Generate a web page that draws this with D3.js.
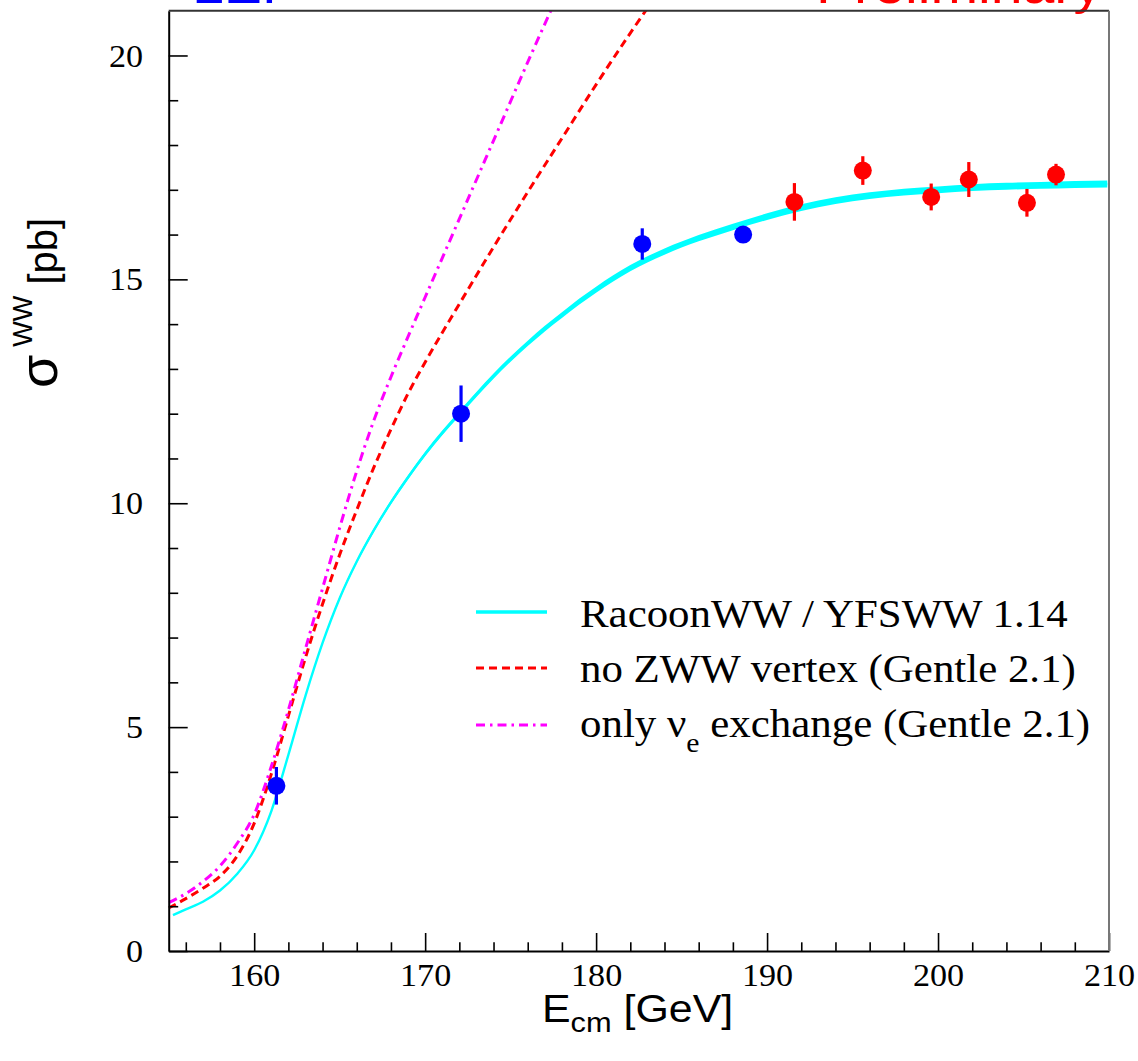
<!DOCTYPE html>
<html>
<head>
<meta charset="utf-8">
<script src="https://cdn.jsdelivr.net/npm/d3@7"></script>
<style>
  body { margin: 0; background: #ffffff; }
  svg { display: block; }
</style>
</head>
<body>
<svg id="chart" width="1138" height="1061"></svg>
<script>
// ---- axis ticks ----
const energyTicks = [160, 170, 180, 190, 200, 210];
const energyMinorTicks = d3.range(156, 210, 2).filter(v => v % 10 !== 0);
const sigmaTicks = [0, 5, 10, 15, 20];
const sigmaMinorTicks = d3.range(1, 21).filter(v => v % 5 !== 0);

// ---- theory: RacoonWW / YFSWW 1.14 ----
const racoonE = [155.25, 156, 157, 158, 159, 160, 161, 162, 163, 164, 165, 166, 167, 168, 169, 170,
  171, 172, 173, 174, 175, 176, 177, 178, 179, 180, 182, 184, 186, 188, 190, 192, 194, 196, 198,
  200, 202, 204, 206, 208, 209.9];
const racoonSigma = [0.80, 0.93, 1.10, 1.35, 1.72, 2.25, 3.12, 4.38, 5.70, 6.88, 7.88, 8.70, 9.40,
  10.02, 10.58, 11.10, 11.57, 12.00, 12.43, 12.84, 13.22, 13.57, 13.90, 14.20, 14.50, 14.77, 15.25,
  15.62, 15.92, 16.17, 16.40, 16.60, 16.76, 16.87, 16.95, 17.00, 17.05, 17.08, 17.10, 17.12, 17.13];
const racoonRelUnc = 0.0045;

// ---- theory: no ZWW vertex (Gentle 2.1) ----
const noZwwE = [155, 156, 157, 158, 159, 160, 161, 162, 163, 164, 165, 166, 167, 168, 169, 170,
  172, 174, 176, 178, 180, 182, 184];
const noZwwSigma = [0.96, 1.17, 1.40, 1.67, 2.12, 2.85, 3.95, 5.25, 6.55, 7.75, 8.85, 9.85, 10.80,
  11.65, 12.45, 13.15, 14.45, 15.72, 16.95, 18.15, 19.35, 20.50, 21.60];

// ---- theory: only nu_e exchange (Gentle 2.1) ----
const nueE = [155, 156, 157, 158, 159, 160, 161, 162, 163, 164, 165, 166, 167, 168, 169, 170,
  172, 174, 176, 178];
const nueSigma = [1.08, 1.28, 1.55, 1.90, 2.40, 3.05, 4.12, 5.38, 6.75, 8.10, 9.45, 10.72, 11.85,
  12.82, 13.72, 14.60, 16.35, 18.10, 19.85, 21.55];

// ---- measurements ----
const blueE = [161.3, 172.1, 182.7, 188.6];
const blueSigma = [3.69, 12.00, 15.79, 16.00];
const blueErr = [0.42, 0.63, 0.35, 0.12];

const redE = [191.6, 195.6, 199.6, 201.8, 205.2, 206.9];
const redSigma = [16.73, 17.43, 16.84, 17.23, 16.71, 17.34];
const redErr = [0.42, 0.32, 0.30, 0.39, 0.31, 0.24];

const legendLabels = ["RacoonWW / YFSWW 1.14", "no ZWW vertex (Gentle 2.1)", "only \u03bd", " exchange (Gentle 2.1)"];

// ---- layout ----
const svg = d3.select("#chart");
const plot = { left: 168.7, right: 1109, top: 10.7, bottom: 951 };
const x = d3.scaleLinear().domain([155, 210]).range([plot.left, plot.right]);
const y = d3.scaleLinear().domain([0, 21]).range([plot.bottom, plot.top]);
const STRETCH = 1.1;
const serif = "'Liberation Serif', 'Times New Roman', serif";
const sans = "'Liberation Sans', Arial, Helvetica, sans-serif";

svg.append("rect").attr("width", 1138).attr("height", 1061).attr("fill", "#ffffff");

// ---- header texts (run off the top edge) ----
svg.append("text")
  .attr("transform", `translate(192,3) scale(${STRETCH},1)`)
  .attr("font-family", sans).attr("font-size", 52).attr("fill", "#0000ff")
  .text("LEP");
svg.append("text")
  .attr("transform", `translate(1102,3) scale(${STRETCH},1)`)
  .attr("text-anchor", "end")
  .attr("font-family", sans).attr("font-size", 52).attr("fill", "#ff0000")
  .text("Preliminary");

// ---- clip for curves ----
svg.append("defs").append("clipPath").attr("id", "plotClip")
  .append("rect")
  .attr("x", plot.left).attr("y", plot.top)
  .attr("width", plot.right - plot.left).attr("height", plot.bottom - plot.top);

const curves = svg.append("g").attr("clip-path", "url(#plotClip)");

const line = d3.line().x(d => x(d[0])).y(d => y(d[1])).curve(d3.curveMonotoneX);
const zipped = (a, b) => a.map((v, i) => [v, b[i]]);

// Racoon band + central line
const racoonPts = zipped(racoonE, racoonSigma);
curves.append("path")
  .datum(racoonPts)
  .attr("d", d3.area()
    .x(d => x(d[0]))
    .y0(d => y(d[1] * (1 - racoonRelUnc)))
    .y1(d => y(d[1] * (1 + racoonRelUnc)))
    .curve(d3.curveMonotoneX))
  .attr("fill", "#00ffff");
curves.append("path")
  .datum(racoonPts)
  .attr("d", line)
  .attr("fill", "none").attr("stroke", "#00ffff").attr("stroke-width", 2.4);

// no ZWW vertex
curves.append("path")
  .datum(zipped(noZwwE, noZwwSigma))
  .attr("d", line)
  .attr("fill", "none").attr("stroke", "#ff0000").attr("stroke-width", 3)
  .attr("stroke-dasharray", "8,5");

// only nu_e exchange
curves.append("path")
  .datum(zipped(nueE, nueSigma))
  .attr("d", line)
  .attr("fill", "none").attr("stroke", "#ff00ff").attr("stroke-width", 3)
  .attr("stroke-dasharray", "9,5,2.5,5");

// ---- axes ----
const gx = svg.append("g").attr("transform", `translate(0,${plot.bottom})`);
gx.call(d3.axisBottom(x).tickValues(energyMinorTicks).tickSize(-8.7).tickSizeOuter(0).tickFormat(""));
gx.select(".domain").remove();
const gxMajor = svg.append("g").attr("transform", `translate(0,${plot.bottom})`)
  .call(d3.axisBottom(x).tickValues(energyTicks).tickSize(-18).tickSizeOuter(0).tickFormat(d3.format("d")));
gxMajor.select(".domain").attr("stroke", "#000").attr("stroke-width", 2);
gxMajor.selectAll(".tick text")
  .attr("y", 35).attr("dy", 0)
  .attr("transform", `scale(${STRETCH},1)`)
  .attr("font-family", serif).attr("font-size", 31).attr("fill", "#000");

const gy = svg.append("g").attr("transform", `translate(${plot.left},0)`);
gy.call(d3.axisLeft(y).tickValues(sigmaMinorTicks).tickSize(-9.5).tickSizeOuter(0).tickFormat(""));
gy.select(".domain").remove();
const gyMajor = svg.append("g").attr("transform", `translate(${plot.left},0)`)
  .call(d3.axisLeft(y).tickValues(sigmaTicks).tickSize(-19).tickSizeOuter(0).tickFormat(d3.format("d")));
gyMajor.select(".domain").attr("stroke", "#000").attr("stroke-width", 2);
gyMajor.selectAll(".tick text")
  .attr("x", 0).attr("dy", "0.34em")
  .attr("transform", `translate(-25.7,0) scale(${STRETCH},1)`)
  .attr("text-anchor", "end")
  .attr("font-family", serif).attr("font-size", 31).attr("fill", "#000");
svg.selectAll(".tick line").attr("stroke", "#000").attr("stroke-width", 1.6);

// top and right frame edges
svg.append("line").attr("x1", plot.left).attr("x2", plot.right).attr("y1", plot.top).attr("y2", plot.top)
  .attr("stroke", "#333").attr("stroke-width", 2);
svg.append("line").attr("x1", plot.right).attr("x2", plot.right).attr("y1", plot.top).attr("y2", plot.bottom)
  .attr("stroke", "#777").attr("stroke-width", 2);

// ---- axis titles ----
const xt = svg.append("text")
  .attr("transform", `translate(542,1022) scale(${STRETCH},1)`)
  .attr("font-family", sans).attr("font-size", 39).attr("fill", "#000");
xt.append("tspan").text("E");
xt.append("tspan").attr("font-size", 28).attr("dy", 10).text("cm");
xt.append("tspan").attr("dy", -10).text(" [GeV]");

const yt = svg.append("text")
  .attr("transform", "translate(57,388) rotate(-90)")
  .attr("font-family", sans).attr("font-size", 40).attr("fill", "#000");
yt.append("tspan").attr("font-size", 54).text("\u03c3");
yt.append("tspan").attr("font-size", 27).attr("dy", -25).attr("dx", 8).text("WW");
yt.append("tspan").attr("dy", 25).text(" [pb]");

// ---- measurements ----
function drawPoints(es, ss, errs, color) {
  const g = svg.append("g");
  const pts = es.map((e, i) => ({ e, s: ss[i], err: errs[i] }));
  g.selectAll("line.err").data(pts).join("line")
    .attr("class", "err")
    .attr("x1", d => x(d.e)).attr("x2", d => x(d.e))
    .attr("y1", d => y(d.s - d.err)).attr("y2", d => y(d.s + d.err))
    .attr("stroke", color).attr("stroke-width", 3.2);
  g.selectAll("circle").data(pts).join("circle")
    .attr("cx", d => x(d.e)).attr("cy", d => y(d.s)).attr("r", 9)
    .attr("fill", color);
}
drawPoints(blueE, blueSigma, blueErr, "#0000ff");
drawPoints(redE, redSigma, redErr, "#ff0000");

// ---- legend ----
const legend = svg.append("g");
const rows = [
  { lineY: 612, baseY: 627, color: "#00ffff", dash: null, width: 3.4 },
  { lineY: 668, baseY: 682, color: "#ff0000", dash: "8,5", width: 3 },
  { lineY: 725, baseY: 737, color: "#ff00ff", dash: "9,5,2.5,5", width: 3 }
];
rows.forEach((r, i) => {
  legend.append("line")
    .attr("x1", 476).attr("x2", 547).attr("y1", r.lineY).attr("y2", r.lineY)
    .attr("stroke", r.color).attr("stroke-width", r.width)
    .attr("stroke-dasharray", r.dash);
  const t = legend.append("text")
    .attr("transform", `translate(580,${r.baseY}) scale(${STRETCH},1)`)
    .attr("font-family", serif).attr("font-size", 39).attr("fill", "#000");
  if (i < 2) {
    t.text(legendLabels[i]);
  } else {
    t.append("tspan").text(legendLabels[2]);
    t.append("tspan").attr("font-size", 27).attr("dy", 15).text("e");
    t.append("tspan").attr("dy", -15).text(legendLabels[3]);
  }
});
</script>
</body>
</html>
